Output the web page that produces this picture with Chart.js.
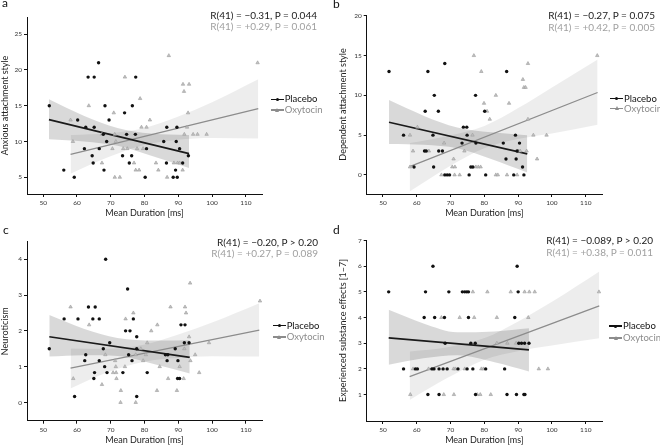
<!DOCTYPE html>
<html>
<head>
<meta charset="utf-8">
<script src="https://cdn.jsdelivr.net/npm/chart.js@4.4.0/dist/chart.umd.min.js"></script>
<style>
  body { margin: 0; background: #fff; font-family: Lato, "Open Sans", sans-serif; }
  #fig { position: relative; width: 660px; height: 445px; overflow: hidden; }
  #fig canvas { position: absolute; }
  .lbl { position: absolute; font-size: 12px; line-height: 12px; color: #111; }
  .stat { position: absolute; font-size: 10px; white-space: nowrap; text-align: right; }
  .stat .p { color: #1a1a1a; }
  .stat .o { color: #a0a0a0; }
  .leg { position: absolute; font-size: 9.5px; white-space: nowrap; }
  .leg div { display: flex; align-items: center; }
  .sym { position: relative; display: inline-block; width: 13px; height: 8px; margin-right: 1px; }
  .sym::before { content: ""; position: absolute; left: 0; right: 0; top: 3.3px; height: 1.4px; background: currentColor; }
  .sym.dot::after { content: ""; position: absolute; left: 5px; top: 2.5px; width: 3px; height: 3px; border-radius: 50%; background: currentColor; }
  .sym.tri::after { content: ""; position: absolute; left: 4.5px; top: 1.5px; width: 0; height: 0;
    border-left: 2px solid transparent; border-right: 2px solid transparent; border-bottom: 4px solid currentColor; }
</style>
</head>
<body>
<div id="fig">
  <canvas id="cA" width="330" height="220" style="left:0;top:0"></canvas>
  <canvas id="cB" width="330" height="220" style="left:330px;top:0"></canvas>
  <canvas id="cC" width="330" height="225" style="left:0;top:220px"></canvas>
  <canvas id="cD" width="330" height="225" style="left:330px;top:220px"></canvas>

  <div class="lbl" style="left:2px;top:-2.6px">a</div>
  <div class="lbl" style="left:333px;top:-1.6px">b</div>
  <div class="lbl" style="left:3px;top:224.4px">c</div>
  <div class="lbl" style="left:333px;top:224.4px">d</div>

  <div class="stat" style="right:343px;top:10px;line-height:11px">
    <div class="p">R(41) = −0.31, P = 0.044</div><div class="o">R(41) = +0.29, P = 0.061</div>
  </div>
  <div class="stat" style="right:5px;top:10px;line-height:11.5px">
    <div class="p">R(41) = −0.27, P = 0.075</div><div class="o">R(41) = +0.42, P = 0.005</div>
  </div>
  <div class="stat" style="right:342px;top:236.5px;line-height:11.6px">
    <div class="p">R(41) = −0.20, P &gt; 0.20</div><div class="o">R(41) = +0.27, P = 0.089</div>
  </div>
  <div class="stat" style="right:7px;top:235px;line-height:11.7px">
    <div class="p">R(41) = −0.089, P &gt; 0.20</div><div class="o">R(41) = +0.38, P = 0.011</div>
  </div>

  <div class="leg" style="left:270.7px;top:94px;line-height:10.7px">
    <div style="color:#111"><span class="sym dot"></span>Placebo</div>
    <div style="color:#8c8c8c"><span class="sym tri"></span>Oxytocin</div>
  </div>
  <div class="leg" style="left:610px;top:93.5px;line-height:10px">
    <div style="color:#111"><span class="sym dot"></span>Placebo</div>
    <div style="color:#8c8c8c"><span class="sym tri"></span>Oxytocin</div>
  </div>
  <div class="leg" style="left:272.7px;top:320px;line-height:11.4px">
    <div style="color:#111"><span class="sym dot"></span>Placebo</div>
    <div style="color:#8c8c8c"><span class="sym tri"></span>Oxytocin</div>
  </div>
  <div class="leg" style="left:609px;top:320px;line-height:12px">
    <div style="color:#111"><span class="sym dot"></span>Placebo</div>
    <div style="color:#8c8c8c"><span class="sym tri"></span>Oxytocin</div>
  </div>
</div>

<script>
const FONT = "Lato, 'Open Sans', sans-serif";

// shared x axis
const durationTicks = [50, 60, 70, 80, 90, 100, 110];

// a: anxious attachment style
const anxiousTicks = [5, 10, 15, 20, 25];
const anxiousPlacebo = [[51.8,15],[56.1,6],[59.2,5],[60.2,13],[62.6,12],[62.2,9],[63.3,19],[64.5,8],[64.8,7],[65.1,19],
  [65.1,12],[66.4,21],[66.6,9],[67.8,11],[68.0,6],[68.3,15],[68.8,10],[69.5,13],[73.5,8],[74.1,14],[74.7,11],[75.5,7],
  [76.2,8],[76.4,15],[77.4,19],[77.3,11],[80.2,5],[80.6,9],[85.7,10],[86.5,7],[86.6,12],[88.5,5],[89.2,6],[89.4,10],
  [89.6,12],[89.7,5],[90.4,9],[91.3,7],[93.0,8]];
const anxiousOxytocin = [[58.1,13],[58.8,10],[63.5,15],[67.4,11],[67.4,7],[70.5,9],[70.9,14],[71.2,11],[71.5,10],[71.2,5],
  [72.7,5],[73.7,9],[74.2,19],[74.9,9],[76.9,7],[77.4,6],[77.8,9],[78.4,6],[78.7,16],[79.1,12],[79.6,9],[80.6,12],
  [81.6,13],[83.4,7],[84.1,6],[86.7,5],[87.2,22],[88.7,7],[89.8,7],[90.4,7],[91.3,6],[91.4,18],[91.7,17],[91.8,11],
  [92.6,12],[92.9,14],[93.2,18],[94.4,11],[95.7,11],[98.4,11],[113.5,21]];
const anxiousPlaceboFit = [[51.7,13.05],[93.2,8.3]];
const anxiousOxytocinFit = [[58.1,8.2],[113.7,14.6]];
// band rows: [x, lower, upper]
const anxiousPlaceboBand = [[51.7,10.3,15.9],[62,10.0,13.6],[72,9.4,11.9],[82,8.0,11.1],[93.2,6.3,10.9]];
const anxiousOxytocinBand = [[58.1,5.5,10.9],[69,7.75,11.15],[80,9.5,11.9],[90,10.25,13.5],[100,10.5,15.5],[113.7,10.4,18.7]];

// b: dependent attachment style
const dependentTicks = [0, 5, 10, 15, 20];
const dependentPlacebo = [[51.8,13],[63.3,13],[68.3,14],[86.6,13],[65.2,10],[77.4,10],[62.5,8],[66.4,8],[80.1,8],[73.8,6],
  [74.8,6],[56.1,5],[64.8,5],[74.9,5],[89.2,5],[73.4,4],[77.5,4],[85.6,4],[90.4,4],[62.3,3],[62.8,3],[66.5,3],[67.6,3],
  [89.7,3],[86.4,2],[89.4,2],[59.2,1],[65.0,1],[76.0,1],[76.6,1],[91.3,1],[68.3,0],[69.0,0],[69.7,0],[75.5,0],[80.4,0],
  [88.7,0],[91.7,0]];
const dependentOxytocin = [[76.9,15],[113.4,15],[92.9,14],[79.1,13],[91.4,12],[91.7,11],[92.2,11],[83.4,10],[79.9,9],[87.3,9],
  [80.8,8],[81.6,7],[92.9,7],[60.2,6],[58.0,5],[76.5,5],[94.5,5],[98.4,5],[68.1,4],[58.9,3],[63.6,3],[74.1,3],[90.0,3],
  [90.6,3],[92.5,3],[70.9,2],[95.6,2],[58.0,1],[70.5,1],[71.3,1],[77.5,1],[78.2,1],[78.9,1],[67.3,0],[71.2,0],[72.7,0],
  [83.4,0],[84.0,0],[86.7,0],[89.7,0]];
const dependentPlaceboFit = [[51.8,6.62],[92.7,2.64]];
const dependentOxytocinFit = [[57.9,1.05],[113.5,10.36]];
const dependentPlaceboBand = [[51.8,3.9,9.4],[62,3.8,7.45],[72,3.35,5.95],[82,2.0,5.35],[92.7,0.3,5.0]];
const dependentOxytocinBand = [[57.9,-2.1,4.0],[69,0.9,4.9],[80,3.35,6.15],[90,4.5,8.4],[100,5.2,11.0],[113.5,6.3,14.5]];

// c: neuroticism
const neuroTicks = [0, 1, 2, 3, 4];
const neuroPlacebo = [[68.5,4],[75.0,3.167],[63.4,2.667],[65.4,2.667],[56.2,2.333],[60.3,2.333],[64.7,2.333],[66.6,2.333],
  [76.7,2.333],[74.4,2],[75.7,2],[77.7,1.833],[69.7,1.667],[51.8,1.5],[67.8,1.5],[77.7,1.5],[62.6,1.333],[75.3,1.333],
  [62.3,1.167],[66.6,1.167],[76.3,1.167],[68.2,1],[65.2,0.833],[68.9,0.833],[73.6,0.833],[80.8,0.833],[65.0,0.667],
  [59.3,0.167],[77.7,0.167],[90.8,2.167],[92.0,2.167],[91.8,1.667],[93.2,1.667],[89.1,1.5],[86.2,1.333],[86.9,1.333],
  [86.7,1.167],[89.9,1.167],[89.8,0.667],[90.4,0.667]];
const neuroOxytocin = [[58.1,2.667],[76.7,2.5],[74.4,2.333],[63.6,2.167],[78.9,1.5],[80.8,1.667],[68.4,1.333],[77.4,1.333],
  [80.4,1.333],[71.3,1.167],[79.6,1.167],[71.5,1.0],[74.2,1.0],[70.7,0.833],[71.6,0.833],[58.9,0.667],[71.7,0.667],
  [67.4,0.5],[73.0,0.333],[72.9,0],[77.4,0],[93.5,3.333],[87.7,2.667],[92.0,2.667],[92.3,2.5],[83.8,2.167],[82.0,2.0],
  [93.2,1.833],[99.1,1.667],[91.8,1.5],[114.2,2.833],[95.0,1.333],[93.6,1.167],[84.5,1.0],[90.4,1.0],[96.2,0.833],
  [87.0,0.667],[91.6,0.667],[83.7,0.333],[89.6,0.333]];
const neuroPlaceboFit = [[51.8,1.835],[93.4,1.26]];
const neuroOxytocinFit = [[58.1,0.96],[114,2.02]];
const neuroPlaceboBand = [[51.8,1.28,2.44],[62,1.32,2.06],[72,1.3,1.8],[83,1.07,1.73],[93.4,0.81,1.74]];
const neuroOxytocinBand = [[58.1,0.39,1.51],[69,0.84,1.5],[80,1.14,1.62],[90,1.24,1.9],[100,1.29,2.23],[114,1.28,2.77]];

// d: experienced substance effects
const effectTicks = [1, 2, 3, 4, 5, 6, 7];
const effectPlacebo = [[64.8,6],[89.7,6],[51.7,5],[62.6,5],[69.5,5],[73.5,5],[74.2,5],[74.8,5],[75.3,5],[90.0,5],
  [62.2,4],[65.3,4],[68.2,4],[75.3,4],[89.0,4],[68.4,3],[76.0,3],[77.3,3],[90.2,3],[91.0,3],[91.9,3],[93.2,3],
  [56.1,2],[59.6,2],[60.2,2],[64.5,2],[65.1,2],[66.6,2],[67.8,2],[69.0,2],[72.2,2],[74.9,2],[76.6,2],[80.4,2],[86.0,2],
  [63.3,1],[66.6,1],[77.4,1],[86.7,1],[89.5,1],[91.7,1],[92.0,1]];
const effectOxytocin = [[76.6,5],[80.9,5],[87.8,5],[91.9,5],[93.3,5],[94.9,5],[113.9,5],[67.3,4],[72.7,4],[77.0,4],[83.7,4],
  [93.0,4],[83.7,3],[86.8,3],[89.4,3],[58.9,2],[63.5,2],[70.9,2],[71.4,2],[74.2,2],[79.1,2],[79.7,2],[96.1,2],[98.8,2],
  [58.1,1],[68.0,1],[71.0,1],[77.9,1],[78.8,1],[81.9,1]];
const effectPlaceboFit = [[51.7,3.21],[93.2,2.74]];
const effectOxytocinFit = [[57.9,1.70],[114,4.45]];
const effectPlaceboBand = [[51.7,2.16,4.3],[62,2.41,3.77],[72,2.53,3.43],[83,2.26,3.46],[93.2,1.9,3.58]];
const effectOxytocinBand = [[57.9,0.79,2.68],[69,1.64,2.84],[80,2.36,3.2],[90,2.69,3.85],[100,2.91,4.61],[114,3.19,5.79]];

const xy = rows => rows.map(r => ({ x: r[0], y: r[1] }));
const bandLo = rows => rows.map(r => ({ x: r[0], y: r[1] }));
const bandHi = rows => rows.map(r => ({ x: r[0], y: r[2] }));

function edge(data, fill, color, order) {
  return {
    type: "line", data, order, fill, backgroundColor: color,
    borderWidth: 0, borderColor: "rgba(0,0,0,0)", pointRadius: 0,
    cubicInterpolationMode: "monotone",
  };
}

function drawPanel(id, p) {
  const datasets = [
    { data: xy(p.placebo), order: 0, pointStyle: "circle", pointRadius: 1.7,
      backgroundColor: "#111", borderWidth: 0 },
    { data: xy(p.oxytocin), order: 0, pointStyle: "triangle", pointRadius: 2.0,
      backgroundColor: "#c2c2c2", borderColor: "#9c9c9c", borderWidth: 0.6 },
    { type: "line", data: xy(p.placeboFit), order: 1, borderColor: "#1a1a1a", borderWidth: 1.7, pointRadius: 0, fill: false },
    { type: "line", data: xy(p.oxytocinFit), order: 1, borderColor: "#8c8c8c", borderWidth: 1.3, pointRadius: 0, fill: false },
    edge(bandLo(p.placeboBand), false, "rgba(0,0,0,0)", 3),
    edge(bandHi(p.placeboBand), 4, "rgba(0,0,0,0.15)", 3),
    edge(bandLo(p.oxytocinBand), false, "rgba(0,0,0,0)", 2),
    edge(bandHi(p.oxytocinBand), 6, "rgba(0,0,0,0.07)", 2),
  ];

  const axisBits = {
    border: { display: true, color: "#111", width: 1 },
    grid: { drawOnChartArea: false, drawTicks: true, tickLength: 3, color: "#111", lineWidth: 1 },
  };

  new Chart(document.getElementById(id), {
    type: "scatter",
    data: { datasets },
    options: {
      responsive: false,
      devicePixelRatio: 1,
      animation: false,
      events: [],
      layout: { padding: p.pad },
      plugins: { legend: { display: false }, tooltip: { enabled: false } },
      scales: {
        x: {
          type: "linear", min: 45.2, max: 114.8, ...axisBits,
          afterBuildTicks: s => { s.ticks = durationTicks.map(v => ({ value: v })); },
          afterFit: s => { s.height = p.xHeight; },
          ticks: { font: { family: FONT, size: 6.5 }, color: "#333", padding: 2, maxRotation: 0, autoSkip: false },
          title: { display: true, text: "Mean Duration [ms]", color: "#222",
                   font: { family: FONT, size: 9 }, padding: { top: 0, bottom: p.titlePad } },
        },
        y: {
          type: "linear", min: p.yMin, max: p.yMax, ...axisBits,
          afterBuildTicks: s => { s.ticks = p.yTicks.map(v => ({ value: v })); },
          afterFit: s => { s.width = p.yWidth; },
          ticks: { font: { family: FONT, size: 6.5 }, color: "#333", padding: 2, autoSkip: false },
          title: { display: true, text: p.yTitle, color: "#222",
                   font: { family: FONT, size: 9 }, padding: { top: 0, bottom: 0 } },
        },
      },
    },
  });
}

drawPanel("cA", {
  placebo: anxiousPlacebo, oxytocin: anxiousOxytocin,
  placeboFit: anxiousPlaceboFit, oxytocinFit: anxiousOxytocinFit,
  placeboBand: anxiousPlaceboBand, oxytocinBand: anxiousOxytocinBand,
  yTicks: anxiousTicks, yMin: 2.66, yMax: 27.4, yTitle: "Anxious attachment style",
  pad: { left: 0, top: 17, right: 68, bottom: 0 }, yWidth: 27, xHeight: 26, titlePad: 1.3,
});

drawPanel("cB", {
  placebo: dependentPlacebo, oxytocin: dependentOxytocin,
  placeboFit: dependentPlaceboFit, oxytocinFit: dependentOxytocinFit,
  placeboBand: dependentPlaceboBand, oxytocinBand: dependentOxytocinBand,
  yTicks: dependentTicks, yMin: -2.4, yMax: 20.1, yTitle: "Dependent attachment style",
  pad: { left: 8, top: 15, right: 58, bottom: 0 }, yWidth: 28.7, xHeight: 26, titlePad: 1.3,
});

drawPanel("cC", {
  placebo: neuroPlacebo, oxytocin: neuroOxytocin,
  placeboFit: neuroPlaceboFit, oxytocinFit: neuroOxytocinFit,
  placeboBand: neuroPlaceboBand, oxytocinBand: neuroOxytocinBand,
  yTicks: neuroTicks, yMin: -0.51, yMax: 4.49, yTitle: "Neuroticism",
  pad: { left: 0, top: 21.7, right: 68, bottom: 0 }, yWidth: 27, xHeight: 24.3, titlePad: 0,
});

drawPanel("cD", {
  placebo: effectPlacebo, oxytocin: effectOxytocin,
  placeboFit: effectPlaceboFit, oxytocinFit: effectOxytocinFit,
  placeboBand: effectPlaceboBand, oxytocinBand: effectOxytocinBand,
  yTicks: effectTicks, yMin: -0.03, yMax: 7.02, yTitle: "Experienced substance effects [1–7]",
  pad: { left: 8, top: 20, right: 58, bottom: 0 }, yWidth: 28.7, xHeight: 24, titlePad: 0,
});
</script>
</body>
</html>
